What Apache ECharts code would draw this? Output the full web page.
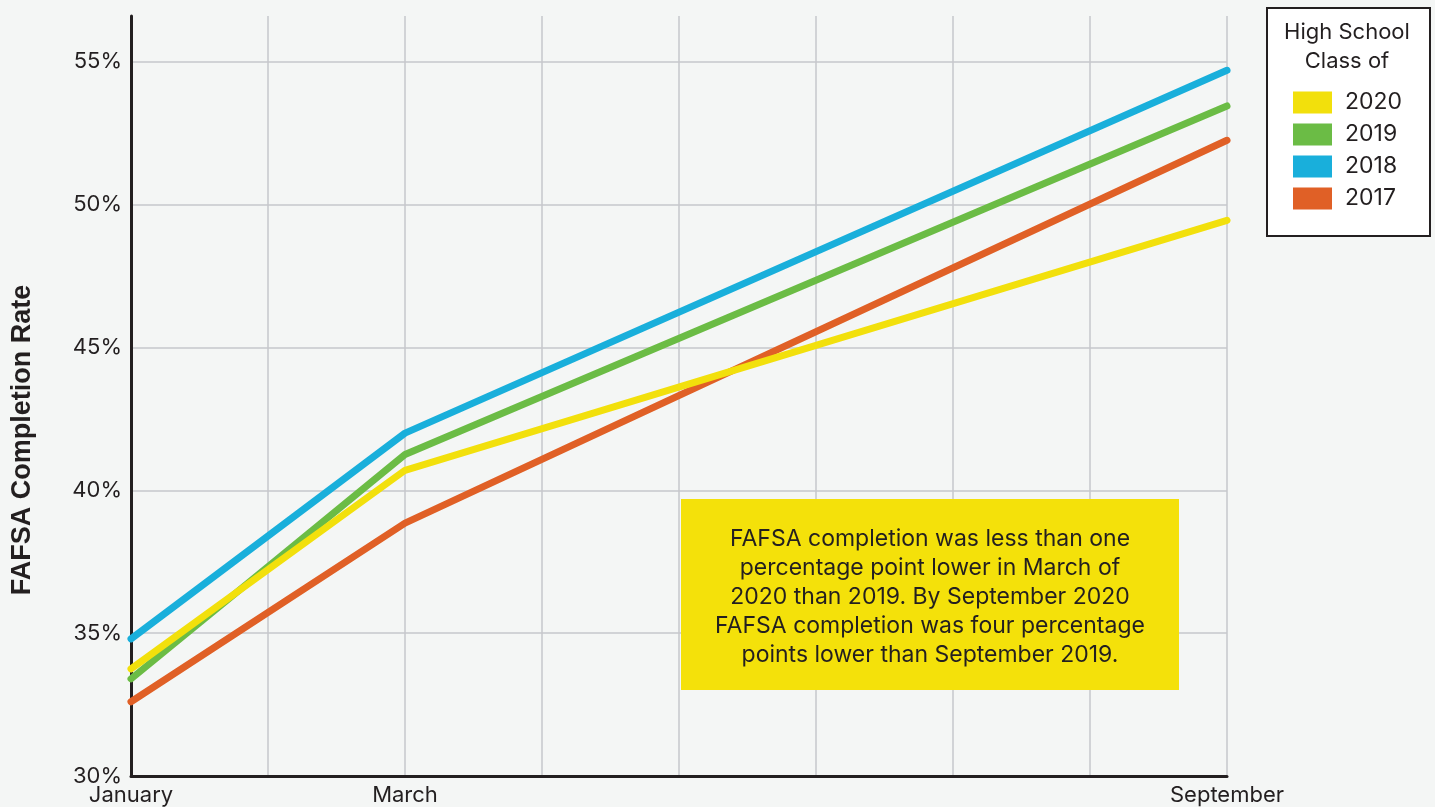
<!DOCTYPE html>
<html>
<head>
<meta charset="utf-8">
<title>FAFSA Completion Rate</title>
<script src="https://cdn.jsdelivr.net/npm/echarts@6/dist/echarts.min.js"></script>
<style>
  html, body { margin: 0; padding: 0; background: #f4f6f5; }
  #chart { width: 1435px; height: 807px; }
</style>
</head>
<body>
<div id="chart"></div>
<script>
// months on the x axis; only three of them carry a label
var months = ["January", "February", "March", "April", "May", "June", "July", "August", "September"];
var labeledMonths = ["January", "March", "September"];

// completion rate (%) by high school class, measured in Jan, Mar and Sep
var class2017 = [32.6, null, 38.85, null, null, null, null, null, 52.25];
var class2018 = [34.8, null, 42.0, null, null, null, null, null, 54.7];
var class2019 = [33.4, null, 41.25, null, null, null, null, null, 53.45];
var class2020 = [33.75, null, 40.7, null, null, null, null, null, 49.45];

var yTicks = [30, 35, 40, 45, 50, 55];
var legendOrder = ["2020", "2019", "2018", "2017"];

var note = "FAFSA completion was less than one\npercentage point lower in March of\n2020 than 2019. By September 2020\nFAFSA completion was four percentage\npoints lower than September 2019.";

var ink = "#231f20";
var font = "Inter, 'Noto Sans', sans-serif";

function line(name, data, color) {
    return {
        name: name,
        type: "line",
        data: data,
        connectNulls: true,
        symbol: "none",
        itemStyle: { color: color },
        lineStyle: { color: color, width: 7, cap: "round", join: "round" },
        emphasis: { disabled: true }
    };
}

var chart = echarts.init(document.getElementById("chart"));
chart.setOption({
    backgroundColor: "#f4f6f5",
    animation: false,
    textStyle: { fontFamily: font },
    grid: { left: 131, right: 208, top: 16, bottom: 31 },
    xAxis: {
        type: "category",
        data: months,
        boundaryGap: false,
        axisLine: { lineStyle: { color: ink, width: 3 } },
        axisTick: { show: false },
        axisLabel: {
            interval: function (i, v) { return labeledMonths.indexOf(v) >= 0; },
            color: ink,
            fontSize: 22,
            margin: 8
        },
        splitLine: { show: true, interval: 0, lineStyle: { color: "#c6c7cb", width: 1.5 } }
    },
    yAxis: {
        type: "value",
        min: yTicks[0],
        max: 56.6,
        interval: 5,
        axisLine: { show: true, lineStyle: { color: ink, width: 3 } },
        axisTick: { show: false },
        axisLabel: {
            color: ink,
            fontSize: 22,
            margin: 9,
            showMaxLabel: false,
            formatter: "{value}%"
        },
        splitLine: { show: true, showMaxLine: false, lineStyle: { color: "#c6c7cb", width: 1.5 } }
    },
    legend: {
        data: legendOrder,
        orient: "vertical",
        left: 1288,
        top: 86,
        icon: "rect",
        itemWidth: 39,
        itemHeight: 22,
        itemGap: 9,
        selectedMode: false,
        textStyle: { color: ink, fontSize: 23, lineHeight: 22, padding: [0, 0, 0, 8] }
    },
    graphic: [
        {
            type: "rect",
            shape: { x: 1267, y: 8, width: 163, height: 228 },
            style: { fill: "#ffffff", stroke: ink, lineWidth: 2 },
            z: 0
        },
        {
            type: "text",
            x: 1347, y: 47,
            style: {
                text: "High School\nClass of",
                fill: ink,
                font: "22px " + font,
                lineHeight: 29,
                align: "center",
                verticalAlign: "middle"
            },
            z: 5
        },
        {
            type: "text",
            x: 23, y: 440,
            rotation: Math.PI / 2,
            style: {
                text: "FAFSA Completion Rate",
                fill: ink,
                font: "bold 27px 'Liberation Sans', Arial, sans-serif",
                align: "center",
                verticalAlign: "middle"
            }
        },
        {
            type: "rect",
            shape: { x: 681, y: 499, width: 498, height: 191 },
            style: { fill: "#f4e10a" },
            z: 50
        },
        {
            type: "text",
            x: 930, y: 597,
            style: {
                text: note,
                fill: ink,
                font: "23px " + font,
                lineHeight: 29,
                align: "center",
                verticalAlign: "middle"
            },
            z: 51
        }
    ],
    series: [
        line("2017", class2017, "#e06026"),
        line("2018", class2018, "#19afdb"),
        line("2019", class2019, "#6bbc45"),
        line("2020", class2020, "#f2e00c")
    ]
});
</script>
</body>
</html>
